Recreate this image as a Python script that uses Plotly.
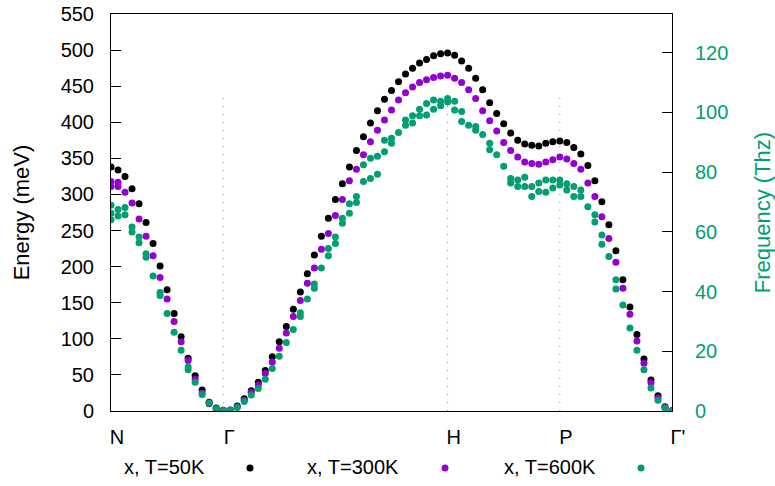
import plotly.graph_objects as go

# ---------------- data ----------------
# high-symmetry path (k-point index along the path)
sym_labels = ["N", "Γ", "H", "P", "Γ'"]
sym_idx = [0, 16, 48, 64, 80]
guide_idx = [16, 48, 64]          # dotted guide lines
guide_top = 435                    # meV, top of the dotted guides

MEV_PER_THZ = 4.13567

# T = 50 K (one value per k index 0..80), energy in meV
e50 = [338, 334, 325, 308, 287, 261, 232, 201, 168, 135, 103, 73, 49, 29, 12, 4, 1,
       1.5, 7, 17, 28, 40, 56, 75, 96, 117, 141, 165, 190, 216, 242, 267, 293, 315,
       338, 361, 380, 399, 416, 432, 444, 456, 467, 475, 482, 487, 492, 495, 496,
       493, 485, 475, 461, 445, 427, 412, 398, 385, 375, 370, 368, 367, 371, 373, 374,
       372, 365, 356, 340, 319, 290, 258, 222, 182, 144, 106, 72, 43, 21, 6, 0.5]

# T = 300 K (values per k index; several values where branches split)
e300_by_k = [[318, 311], [317, 311], [303], [288], [266], [242], [215], [185], [155], [124],
             [96], [70], [44], [25], [10], [3], [0.8],
             [1.2], [6], [15], [26], [36], [52], [68], [87], [108], [131], [153], [177],
             [198], [224], [246], [271], [293], [319], [335], [355], [373], [389], [403],
             [417], [431], [441], [449], [455], [459], [462], [464], [465],
             [461], [455], [445], [433], [416], [402], [388], [372], [361], [352], [345],
             [343], [342], [345], [348], [352],
             [349], [343], [335], [316], [297], [269], [239], [206], [170], [134], [97],
             [66], [39], [18], [5], [0.5]]

# T = 600 K
e600_by_k = [[285, 274, 265], [279, 270], [282, 272], [255, 248], [241, 233], [218, 213],
             [187], [164, 160], [135], [109], [84], [61, 57], [40], [23], [11], [3], [0.5],
             [1.2], [5], [13], [22], [31], [44], [59], [76], [95], [113], [131, 136], [155],
             [170, 176], [198], [215, 225], [232, 241], [260, 267], [274, 287], [289, 297],
             [318, 341], [322, 350], [328, 353], [359, 375], [371, 378], [386], [396, 403],
             [399, 409], [409, 418], [410, 426], [418, 431], [423, 429], [428, 433],
             [417, 429], [401, 415], [396], [389, 394], [383], [362, 371], [355], [339],
             [316, 322], [311, 320], [311, 324], [297, 311], [304, 316], [303, 320],
             [309, 320], [313, 320],
             [306, 315], [297, 311], [297, 306], [283], [262, 272], [231, 244], [214],
             [169, 182], [147], [115], [84], [57], [32], [15], [4], [0.5]]

k50 = list(range(len(e50)))
k300 = [k for k, vals in enumerate(e300_by_k) for _ in vals]
e300 = [v for vals in e300_by_k for v in vals]
k600 = [k for k, vals in enumerate(e600_by_k) for _ in vals]
e600 = [v for vals in e600_by_k for v in vals]

series_names = ["x, T=50K", "x, T=300K", "x, T=600K"]
series_colors = ["#000000", "#9400d3", "#009e73"]

freq_ticks = [0, 20, 40, 60, 80, 100, 120]
energy_ticks = list(range(0, 551, 50))

# ---------------- figure ----------------
W, H = 775, 486
L, R, T, B = 111, 103, 14, 75
FONT = "Liberation Sans"
TICK_SIZE = 20
TITLE_SIZE = 22

fig = go.Figure()
for (kk, ee), name, col in zip([(k50, e50), (k300, e300), (k600, e600)],
                               series_names, series_colors):
    fig.add_trace(go.Scatter(x=kk, y=ee, mode="markers", name=name,
                             marker=dict(color=col, size=7, line=dict(width=0)),
                             showlegend=False))

# invisible trace so the right (THz) axis is realised
fig.add_trace(go.Scatter(x=[sym_idx[0]], y=[0], yaxis="y2", mode="markers",
                         marker=dict(opacity=0), showlegend=False, hoverinfo="skip"))

# dotted guide lines at high-symmetry points
for g in guide_idx:
    fig.add_shape(type="line", xref="x", yref="y", x0=g, x1=g, y0=0, y1=guide_top,
                  line=dict(color="#888888", width=1, dash="1px,7px"), layer="below")

# legend (text right-justified, sample to the right, gnuplot style)
plot_w = W - L - R
plot_h = H - T - B
legend_text_right = [207, 401, 598]   # px
legend_dot_x = [250, 445, 641]        # px
legend_y = 467                        # px
for name, col, tx, dx in zip(series_names, series_colors, legend_text_right, legend_dot_x):
    fig.add_annotation(x=(tx - L) / plot_w, y=(H - B - legend_y) / plot_h,
                       xref="paper", yref="paper", text=name, showarrow=False,
                       xanchor="right", yanchor="middle",
                       font=dict(family=FONT, size=TICK_SIZE, color="#000000"))
    fig.add_shape(type="circle", xref="paper", yref="paper",
                  xsizemode="pixel", ysizemode="pixel",
                  xanchor=(dx - L) / plot_w, yanchor=(H - B - legend_y - 1) / plot_h,
                  x0=-3.5, x1=3.5, y0=-3.5, y1=3.5,
                  fillcolor=col, line=dict(width=0))

fig.update_layout(
    width=W, height=H,
    margin=dict(l=L, r=R, t=T, b=B, pad=0, autoexpand=False),
    paper_bgcolor="white", plot_bgcolor="white",
    font=dict(family=FONT, size=TICK_SIZE, color="#000000"),
    showlegend=False,
    xaxis=dict(range=[sym_idx[0], sym_idx[-1]], tickmode="array", tickvals=sym_idx,
               ticktext=sym_labels, ticks="", showgrid=False, zeroline=False,
               showline=True, linecolor="#000000", linewidth=1, mirror=True,
               ticklabelshift=6, ticklabelstandoff=8, automargin=False),
    yaxis=dict(range=[0, 550], tickmode="array", tickvals=energy_ticks,
               ticks="inside", ticklen=10, tickcolor="#000000", showgrid=False,
               zeroline=False, showline=True, linecolor="#000000", linewidth=1,
               mirror=True, ticklabelstandoff=12, automargin=False,
               title=dict(text="Energy (meV)", standoff=24,
                          font=dict(family=FONT, size=TITLE_SIZE))),
    yaxis2=dict(range=[0, 550 / MEV_PER_THZ], overlaying="y", side="right",
                tickmode="array", tickvals=freq_ticks, ticks="inside", ticklen=10,
                tickcolor="#000000", showgrid=False, zeroline=False, showline=True,
                linecolor="#000000", linewidth=1, ticklabelstandoff=18,
                automargin=False, tickfont=dict(color="#009e73"),
                title=dict(text="Frequency (Thz)", standoff=28,
                           font=dict(family=FONT, size=TITLE_SIZE, color="#009e73"))),
)

# remove the browser's default 8px page margin so the figure sits at the page origin
fig.write_html("out.html",
               config={"displayModeBar": False},
               post_script="document.body.style.margin='0px';"
                           "document.body.style.overflow='hidden';")
